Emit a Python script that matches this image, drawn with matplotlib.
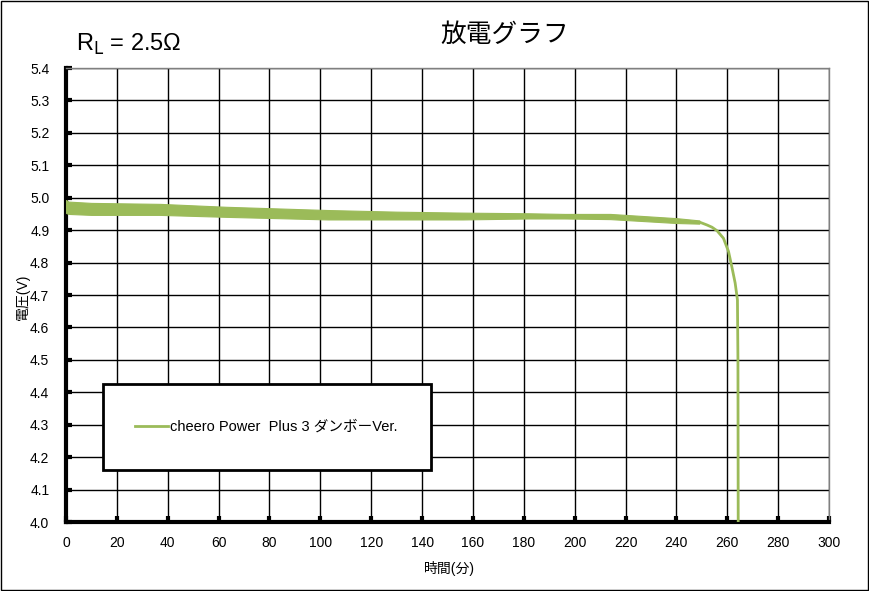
import numpy as np
import matplotlib
matplotlib.use("Agg")
import matplotlib.pyplot as plt
from matplotlib.patches import Rectangle

plt.rcParams['font.family'] = ['Liberation Sans', 'Noto Sans CJK JP', 'DejaVu Sans']

band_t = [0, 1, 10, 37, 63, 103, 130, 156, 182, 196, 214, 240, 249]
band_hi = [4.993, 4.988, 4.984, 4.981, 4.972, 4.962, 4.957, 4.954, 4.952, 4.950, 4.950, 4.937, 4.930]
band_lo = [4.953, 4.950, 4.947, 4.947, 4.941, 4.933, 4.933, 4.933, 4.936, 4.936, 4.934, 4.922, 4.920]

# end of discharge
tail_t = [249, 252, 254, 256, 258.5, 260.5, 261.8, 263.1, 264.0, 264.2, 264.3]
tail_v = [4.925, 4.916, 4.909, 4.898, 4.875, 4.834, 4.787, 4.737, 4.685, 4.5, 4.0]

series_name = "cheero Power  Plus 3 ダンボーVer."
green = "#9bbb59"

fig = plt.figure(figsize=(8.69, 5.91), dpi=100)
ax = fig.add_axes([66 / 869, 69 / 591, 763 / 869, 454 / 591])

ax.fill_between(band_t, band_lo, band_hi, color=green, lw=0.8, edgecolor=green, zorder=3)
ax.plot(tail_t, tail_v, color=green, lw=2, zorder=3, solid_capstyle="butt")

ax.set_xlim(0, 300)
ax.set_ylim(4.0, 5.4)
ax.set_xticks(np.arange(0, 301, 20))
ax.set_yticks(np.arange(4.0, 5.41, 0.1))
ax.set_yticklabels([f"{v:.1f}" for v in np.arange(4.0, 5.41, 0.1)])
ax.grid(True, color="black", lw=1)
ax.set_axisbelow(True)
ax.tick_params(direction="in", length=4, width=3, labelsize=10, pad=12)
ax.tick_params(axis="x", pad=10)

for s in ["left", "bottom"]:
    ax.spines[s].set_linewidth(3)
    ax.spines[s].set_color("black")
for s in ["top", "right"]:
    ax.spines[s].set_linewidth(1)
    ax.spines[s].set_color("#808080")

ax.set_xlabel("時間(分)", fontsize=10)
ax.set_ylabel("電圧(V)", fontsize=10)
ax.xaxis.set_label_coords(0.503, -0.086)
ax.yaxis.set_label_coords(-0.047, 0.495)

# legend box
ax.add_patch(Rectangle((0.0485, 0.1145), 0.4295, 0.1895, transform=ax.transAxes,
                       facecolor="white", edgecolor="black", lw=2, zorder=5))
ax.plot([], [], color=green, lw=2, label=series_name)
leg = ax.legend(loc="center", bbox_to_anchor=(0.263, 0.209), frameon=False,
                fontsize=10.5, handlelength=2.2, handletextpad=0.2)
leg.set_zorder(6)

fig.text(505 / 869, 1 - 35 / 591, "放電グラフ", fontsize=18.5, ha="center", va="center")
fig.text(76 / 869, 1 - 44 / 591, r"R$_{\rm L}$ = 2.5Ω", fontsize=17, ha="left", va="center")

fig.add_artist(Rectangle((0.0008, 0.001), 0.998, 0.997, transform=fig.transFigure,
                         fill=False, edgecolor="black", lw=1))

fig.savefig("out.png", dpi=100)
